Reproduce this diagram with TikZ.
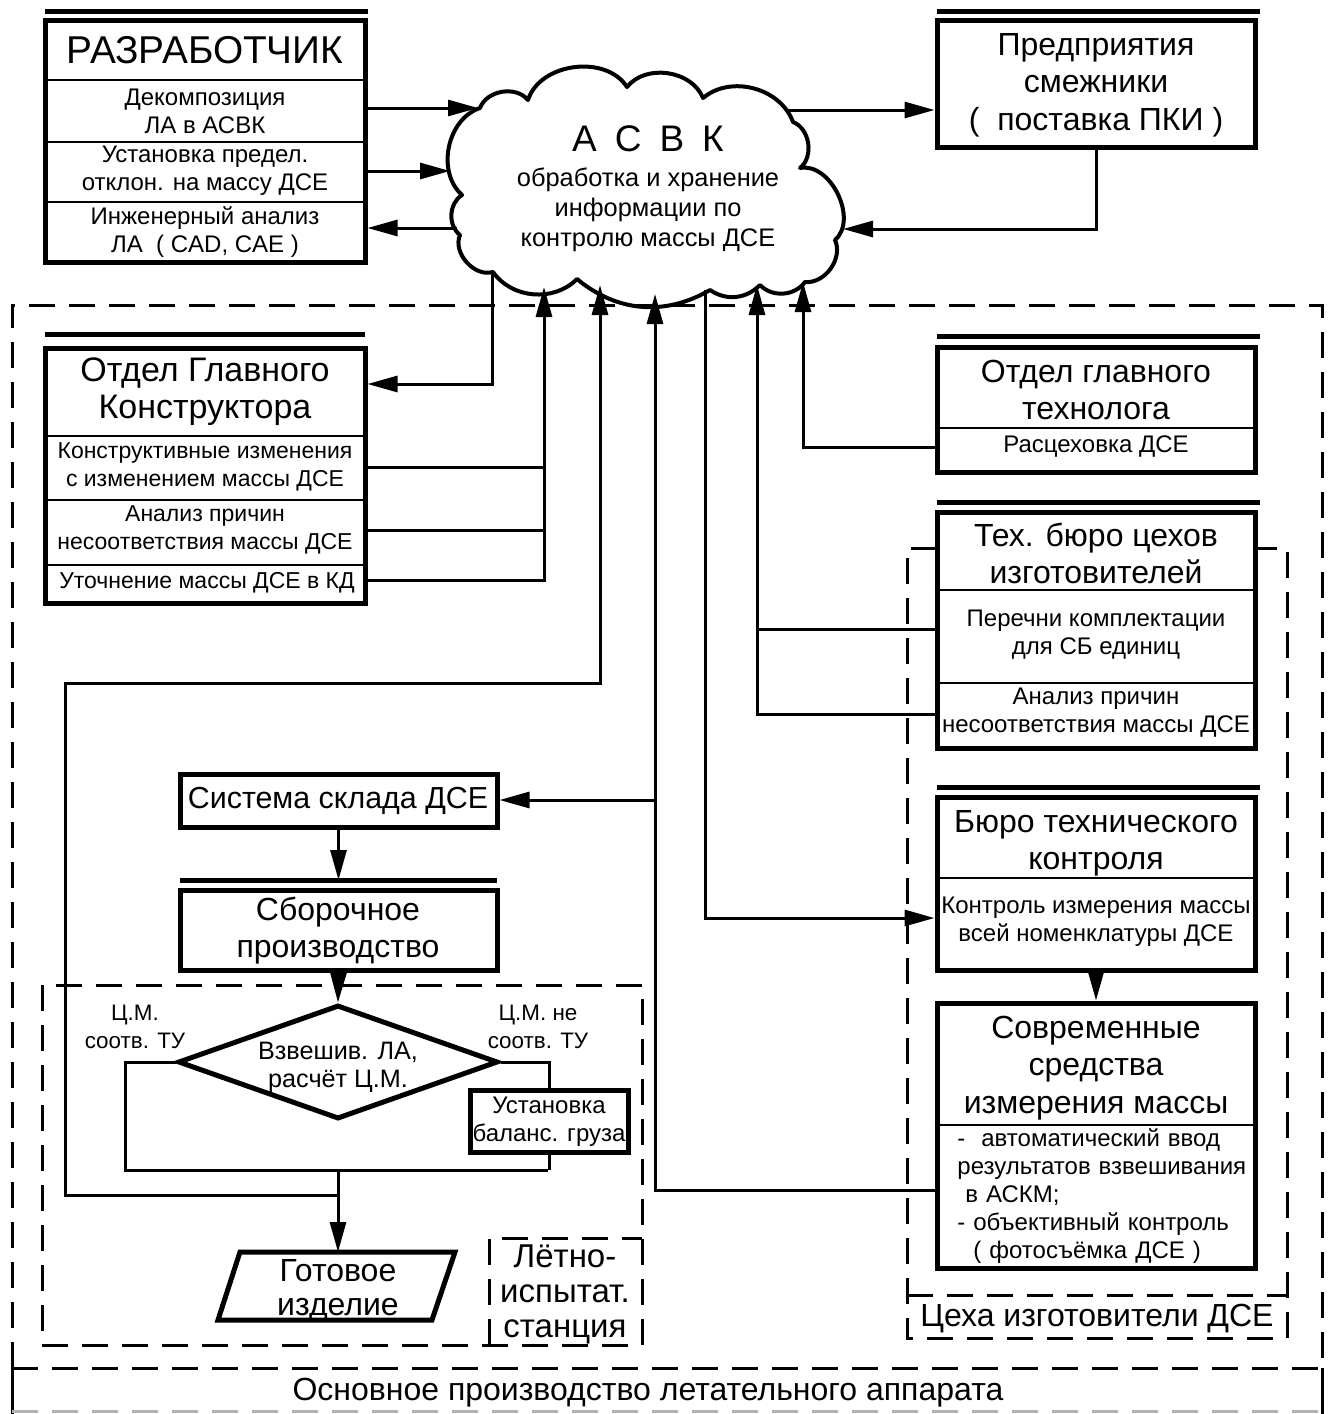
\documentclass[tikz,border=0pt]{standalone}
\usepackage{fontspec}
\setmainfont{Liberation Sans}
\usetikzlibrary{shapes.symbols,shapes.geometric,arrows.meta,fit,calc}
\newcommand\fA{\fontsize{19.4}{21}\selectfont}
\newcommand\fAs{\fontsize{18.5}{21}\selectfont}
\newcommand\fB{\fontsize{16}{18.5}\selectfont}
\newcommand\fBg{\fontsize{16}{17}\selectfont}
\newcommand\fBt{\fontsize{16}{18.75}\selectfont}
\newcommand\fBs{\fontsize{15.2}{18.5}\selectfont}
\newcommand\fBo{\fontsize{17}{18.5}\selectfont}
\newcommand\fBl{\fontsize{16.5}{17.5}\selectfont}
\newcommand\fC{\fontsize{12}{14}\selectfont}
\newcommand\fCs{\fontsize{11.5}{14}\selectfont}
\newcommand\fCl{\fontsize{12.7}{15}\selectfont}
\newcommand\fCd{\fontsize{12.6}{14}\selectfont}
\newcommand\fD{\fontsize{11.2}{14}\selectfont}
\begin{document}
\begin{tikzpicture}[x=0.5pt,y=-0.5pt,
  box/.style={draw, line width=2.5pt, inner sep=0pt},
  bar/.style={line width=2.5pt},
  div/.style={line width=0.8pt},
  conn/.style={line width=1.5pt},
  arr/.style={conn, -{Triangle[length=15pt,width=8pt]}},
  dbox/.style={line width=1.5pt, dash pattern=on 13pt off 7pt},
  txt/.style={align=center, inner sep=0pt}]
\useasboundingbox (0,0) rectangle (1332,1414);

% ---------- Razrabotchik
\draw[bar] (45,11) -- (368,11);
\node[box, fit={(45,20)(365,262)}] (razr) {};
\foreach \yy in {80,142,202} \draw[div] (razr.west |- 0,\yy) -- (razr.east |- 0,\yy);
\node[txt, font=\fA] (razrT) at (205,50) {РАЗРАБОТЧИК};
\node[txt, font=\fC] (razr1) at (205,111) {Декомпозиция\\ЛА в АСВК};
\node[txt, font=\fC] (razr2) at (205,171) {Установка предел.\\отклон. на массу ДСЕ};
\node[txt, font=\fC] (razr3) at (205,232) {Инженерный анализ\\ЛА\ \ ( CAD, CAE )};

% ---------- Predpriyatiya
\draw[bar] (937,11) -- (1260,11);
\node[box, fit={(937,20)(1255,147)}] (pred) {};
\node[txt, font=\fBt] (predT) at (1096,85) {Предприятия\\смежники\\(\ \ поставка ПКИ )};

% ---------- Cloud (ASVK)
\draw[line width=2pt, line join=round]
  (480,108) to[bend left=60] (528,100) to[bend left=65] (627,87)
  to[bend left=60] (703,98) to[bend left=55] (793,122)
  to[bend left=60] (800,168) to[bend left=75] (835,240)
  to[bend left=60] (805,282) to[bend left=50] (760,285)
  to[bend left=40] (710,290) to[bend left=35] (577,279)
  to[bend left=50] (493,272) to[bend left=65] (460,235)
  to[bend left=55] (462,195) to[bend left=60] cycle;
\node[inner sep=0pt, minimum width=170pt, minimum height=95pt] (asvk) at (643,185) {};
\node[txt, font=\fAs] (asvkT) at (648,139) {А\hspace{9pt}С\hspace{9pt}В\hspace{9pt}К};
\node[txt, font=\fCl] (asvk1) at (648,210) {обработка и хранение\\информации по\\контролю массы ДСЕ};

\coordinate (cA) at (478,108);
\coordinate (cB) at (450,171);
\coordinate (cC) at (457,228);
\coordinate (cD) at (788,110);
\coordinate (cE) at (843,229);
\draw[arr] (razr.east |- cA) -- (cA);
\draw[arr] (razr.east |- cB) -- (cB);
\draw[arr] (cC) -- (razr.east |- cC);
\draw[arr] (cD) -- (pred.west |- cD);
\draw[arr] (pred.south) |- (cE);

% ---------- outer dashed frame
\draw[dbox] (12,1368) -- (12,305) -- (1322,305) -- (1322,1368);
\draw[dbox] (12,1368) -- (1322,1368);
\draw[conn] (12,1368) -- (12,1414);
\draw[conn] (1322,1368) -- (1322,1414);
\draw[dbox, gray!60] (12,1411) -- (1322,1411);
\node[txt, font=\fB] (mainL) at (648,1393) {Основное производство летательного аппарата};

% ---------- OGK
\draw[bar] (45,334) -- (365,334);
\node[box, fit={(45,348)(365,603)}] (ogk) {};
\foreach \yy in {436,500,565} \draw[div] (ogk.west |- 0,\yy) -- (ogk.east |- 0,\yy);
\node[txt, font=\fBo] (ogkT) at (205,392) {Отдел Главного\\Конструктора};
\node[txt, font=\fCs] (ogk1) at (205,467) {Конструктивные изменения\\с изменением массы ДСЕ};
\node[txt, font=\fCs] (ogk2) at (205,530) {Анализ причин\\несоответствия массы ДСЕ};
\node[txt, font=\fCs] (ogk3) at (207,583) {Уточнение массы ДСЕ в КД};

\coordinate (c492) at (492,272);
\coordinate (c544) at (544,287);
\coordinate (j1) at (544,467);
\coordinate (j2) at (544,530);
\draw[arr] (c492) |- (ogk.east |- 0,384);
\draw[arr] (ogk.east |- 0,580) -| (c544);
\draw[conn] (ogk.east |- j1) -- (j1);
\draw[conn] (ogk.east |- j2) -- (j2);

% ---------- OGT
\draw[bar] (937,336) -- (1260,336);
\node[box, fit={(937,347)(1255,472)}] (ogt) {};
\draw[div] (ogt.west |- 0,428) -- (ogt.east |- 0,428);
\node[txt, font=\fB] (ogtT) at (1096,390) {Отдел главного\\технолога};
\node[txt, font=\fC] (ogt1) at (1096,447) {Расцеховка ДСЕ};
\coordinate (c803) at (803,282);
\draw[arr] (ogt.west |- 0,447) -| (c803);

% ---------- Tech buro
\draw[bar] (937,502) -- (1260,502);
\node[box, fit={(937,512)(1255,748)}] (tb) {};
\foreach \yy in {590,683} \draw[div] (tb.west |- 0,\yy) -- (tb.east |- 0,\yy);
\node[txt, font=\fB] (tbT) at (1096,553) {Тех. бюро цехов\\изготовителей};
\node[txt, font=\fC] (tb1) at (1096,635) {Перечни комплектации\\для СБ единиц};
\node[txt, font=\fC] (tb2) at (1096,713) {Анализ причин\\несоответствия массы ДСЕ};
\coordinate (c757) at (757,285);
\coordinate (j3) at (757,629);
\draw[arr] (tb.west |- 0,714) -| (c757);
\draw[conn] (tb.west |- j3) -- (j3);

% ---------- Tsekha dashed
\draw[dbox] (937,548) -- (907,548) -- (907,1338) -- (1287,1338) -- (1287,548) -- (1255,548);
\draw[dbox] (907,1295) -- (1287,1295);
\node[txt, font=\fB] (tsekh) at (1097,1318) {Цеха изготовители ДСЕ};

% ---------- BTK
\draw[bar] (937,787) -- (1260,787);
\node[box, fit={(937,797)(1255,970)}] (btk) {};
\draw[div] (btk.west |- 0,878) -- (btk.east |- 0,878);
\node[txt, font=\fB] (btkT) at (1096,843) {Бюро технического\\контроля};
\node[txt, font=\fC] (btk1) at (1096,922) {Контроль измерения массы\\всей номенклатуры ДСЕ};
\coordinate (c705) at (705,290);
\draw[arr] (c705) |- (btk.west |- 0,918);

% ---------- Sovremennye
\node[box, fit={(937,1003)(1255,1268)}] (sovr) {};
\draw[div] (sovr.west |- 0,1125) -- (sovr.east |- 0,1125);
\node[txt, font=\fBt] (sovrT) at (1096,1068) {Современные\\средства\\измерения массы};
\node[txt, font=\fC, align=left, anchor=west, text width=150pt] (sovr1) at (957,1196) {-\ \ автоматический ввод\\результатов взвешивания\\\ в АСКМ;\\- объективный контроль\\\ \ ( фотосъёмка ДСЕ )};
\draw[arr] (btk.south) -- (sovr.north);

% ---------- x655 line
\coordinate (c655) at (655,294);
\coordinate (j655) at (655,800);
\draw[arr] (sovr.west |- 0,1190) -| (c655);

% ---------- Sklad
\node[box, fit={(180,774)(497,827)}] (sklad) {};
\node[txt, font=\fBs] (skladT) at (338,801) {Система склада ДСЕ};
\draw[arr] (j655) -- (sklad.east |- j655);

% ---------- Sborochnoe
\draw[bar] (180,880) -- (497,880);
\node[box, fit={(180,890)(497,970)}] (sbor) {};
\node[txt, font=\fB] (sborT) at (338,931) {Сборочное\\производство};
\draw[arr] (sklad.south) -- (sklad.south |- 0,880);

% ---------- inner dashed
\draw[dbox] (42,985) rectangle (642,1345);

% ---------- diamond
\node[diamond, draw, line width=2.5pt, minimum width=160pt, minimum height=57pt, inner sep=0pt] (dia) at (338,1062) {};
\node[txt, font=\fCd] (diaT) at (338,1067) {Взвешив. ЛА,\\расчёт Ц.М.};
\draw[arr] (sbor.south) -- (dia.north);
\node[txt, font=\fD] (lblL) at (135,1027) {Ц.М.\\соотв. ТУ};
\node[txt, font=\fD] (lblR) at (538,1027) {Ц.М. не\\соотв. ТУ};

\node[box, fit={(470,1090)(628,1152)}] (ust) {};
\node[txt, font=\fC] (ustT) at (549,1122) {Установка\\баланс. груза};

\coordinate (jB) at (338,1170);
\coordinate (jC) at (338,1195);
\draw[conn] (dia.west) -- (125,1062) -- (125,1170) -- (548,1170);
\draw[conn] (dia.east) -| (ust.north);
\draw[conn] (ust.south) -- (ust.south |- jB);

% ---------- Gotovoe
\coordinate (gotTop) at (338,1252);
\draw[line width=2.5pt, line join=miter] (240,1252) -- (455,1252) -- (432,1320) -- (218,1320) -- cycle;
\node[txt, font=\fBg] (gotT) at (338,1291) {Готовое\\изделие};
\draw[arr] (jB) -- (gotTop);

% x600 loop
\coordinate (c600) at (600,285);
\draw[arr] (jC) -- (65,1195) -- (65,683) -| (c600);

% ---------- Letno
\draw[dbox] (489,1345) -- (489,1238) -- (642,1238);
\node[txt, font=\fBl] (letT) at (565,1294) {Лётно-\\испытат.\\станция};
\end{tikzpicture}
\end{document}
